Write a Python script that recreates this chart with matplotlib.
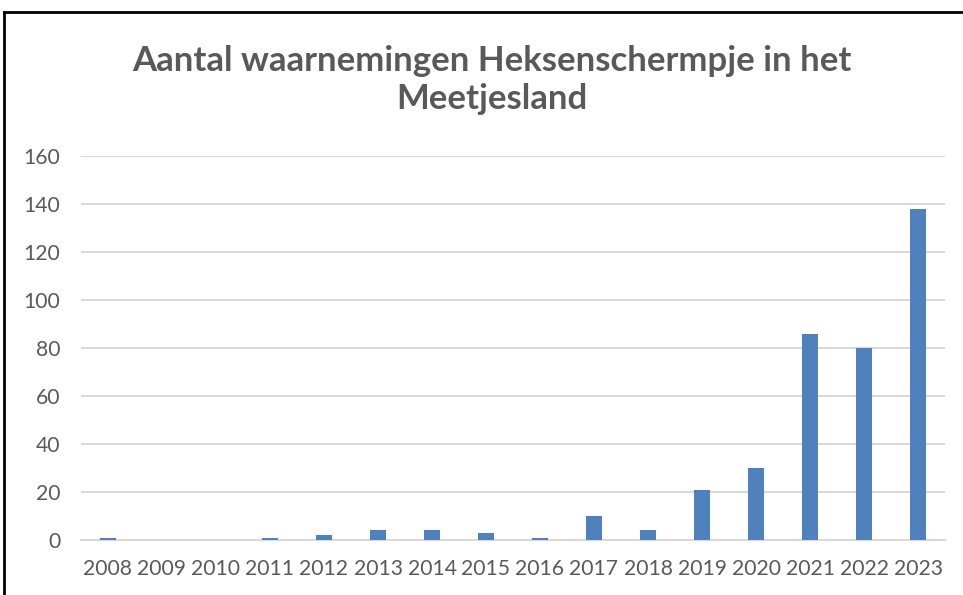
import matplotlib
matplotlib.use("Agg")
import matplotlib.pyplot as plt
from matplotlib.lines import Line2D

years = ["2008", "2009", "2010", "2011", "2012", "2013", "2014", "2015",
         "2016", "2017", "2018", "2019", "2020", "2021", "2022", "2023"]
counts = [1, 0, 0, 1, 2, 4, 4, 3, 1, 10, 4, 21, 30, 86, 80, 138]
yticks = [0, 20, 40, 60, 80, 100, 120, 140, 160]
title = "Aantal waarnemingen Heksenschermpje in het\nMeetjesland"

plt.rcParams['font.family'] = ['Lato', 'DejaVu Sans']
W, H = 963, 595
fig = plt.figure(figsize=(W / 100, H / 100), dpi=100)
ax = fig.add_axes([81 / W, 1 - 540 / H, (945 - 81) / W, (540 - 156) / H])

x = range(len(years))
ax.bar(x, counts, width=0.31, color="#4f81bd", zorder=3)
ax.set_xlim(-0.5, len(years) - 0.5)
ax.set_ylim(0, 160)
ax.set_yticks(yticks)
ax.set_xticks(list(x))
ax.set_xticklabels(years)
ax.grid(axis="y", color="#d9d9d9", linewidth=1.5, zorder=0)
for s in ["top", "right", "left"]:
    ax.spines[s].set_visible(False)
ax.spines["bottom"].set_color("#d9d9d9")
ax.spines["bottom"].set_linewidth(1.5)
ax.tick_params(axis="both", length=0, labelsize=15.2, colors="#595959")
ax.tick_params(axis="x", pad=14)
ax.tick_params(axis="y", pad=15)

fig.text(492 / W, 1 - 80 / H, title, ha="center", va="center",
         fontsize=25, fontweight="bold", color="#595959", linespacing=1.25)

fig.add_artist(Line2D([4 / W, 4 / W], [0, 1 - 12 / H], color="black", linewidth=2, transform=fig.transFigure))
fig.add_artist(Line2D([4 / W, 1], [1 - 12 / H, 1 - 12 / H], color="black", linewidth=2, transform=fig.transFigure))

fig.savefig("out.png", dpi=100)
